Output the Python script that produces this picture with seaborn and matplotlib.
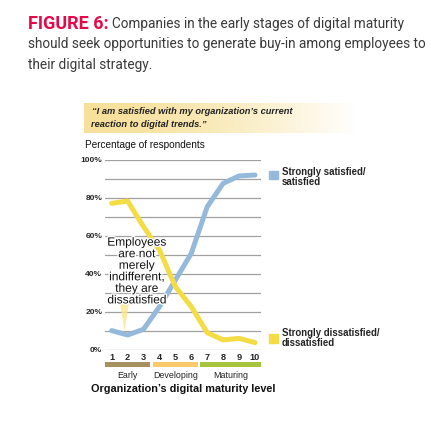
import numpy as np
import matplotlib
matplotlib.use('Agg')
import matplotlib.pyplot as plt
import matplotlib.patheffects as pe
from matplotlib import font_manager
import seaborn as sns

levels = list(range(1, 11))
satisfied = [10.2, 7.9, 10.9, 22.8, 36.8, 50.9, 75.4, 87.7, 91.6, 92.1]
dissatisfied = [77.2, 78.4, 64.9, 52.6, 33.3, 22.8, 9.1, 5.3, 6.1, 3.9]
y_ticks = [0, 20, 40, 60, 80, 100]
stages = ['Early', 'Developing', 'Maturing']
stage_spans = [(1, 3), (4, 6), (7, 10)]
stage_colors = ['#a8915e', '#f9c96b', '#a7c43f']

BLUE = '#95b9db'
YELLOW = '#f4dc44'


def pick(name, default='DejaVu Sans'):
    try:
        font_manager.findfont(name, fallback_to_default=False)
        return name
    except Exception:
        return default


narrow = pick('Liberation Sans Narrow', 'Liberation Sans')
body = pick('Roboto')

sns.set_style('white')
plt.rcParams['font.family'] = [narrow, 'DejaVu Sans']

W, H = 447, 428
fig = plt.figure(figsize=(W / 100, H / 100), dpi=100)


def fx(px):
    return px / W


def fy(py):
    return 1 - py / H


# title
fig.text(fx(28), fy(24), 'FIGURE 6:', color='#e5094a', fontsize=13, fontweight='bold',
         family=body, va='center', zorder=10)
fig.text(fx(112), fy(24), 'Companies in the early stages of digital maturity',
         color='#3a3a3a', fontsize=9.8, family=body, va='center', zorder=10)
fig.text(fx(28), fy(44), 'should seek opportunities to generate buy-in among employees to',
         color='#3a3a3a', fontsize=9.8, family=body, va='center', zorder=10)
fig.text(fx(28), fy(65), 'their digital strategy.', color='#3a3a3a', fontsize=9.8,
         family=body, va='center', zorder=10)

# quote box with gradient
qax = fig.add_axes([fx(84), fy(133), fx(358) - fx(84), fy(103) - fy(133)])
grad = np.linspace(0, 1, 256)
c0 = np.array(matplotlib.colors.to_rgb('#f7e09a'))
c1 = np.array([1, 1, 1])
cols = c0[None, :] * (1 - grad[:, None] ** 1.5) + c1[None, :] * grad[:, None] ** 1.5
qax.imshow(cols[None, :, :], aspect='auto', extent=[0, 1, 0, 1], zorder=0)
qax.set_xlim(0, 1)
qax.set_ylim(0, 1)
qax.axis('off')
qax.text(8 / 274, 0.72, '\u201cI am satisfied with my organization\u2019s current',
         fontsize=6.7, style='italic', fontweight='bold', color='#222222', va='center',
         transform=qax.transAxes, zorder=5)
qax.text(7 / 274, 0.29, 'reaction to digital trends.\u201d', fontsize=6.7,
         style='italic', fontweight='bold', color='#222222', va='center',
         transform=qax.transAxes, zorder=5)
fig.text(fx(85), fy(145), 'Percentage of respondents', fontsize=7.2, color='#111111',
         va='center')

# main axes
x0 = 1 - 6.7 / 15.92
x1 = 10 + 6 / 15.92
ax = fig.add_axes([fx(105), fy(350), fx(261) - fx(105), fy(160) - fy(350)])
ax.set_xlim(x0, x1)
ax.set_ylim(0, 100)
for v in range(0, 101, 10):
    ax.axhline(v, color='#a0a0a0', lw=0.9, zorder=0)
sns.lineplot(x=levels, y=satisfied, ax=ax, color=BLUE, lw=3.6, zorder=2)
sns.lineplot(x=levels, y=dissatisfied, ax=ax, color=YELLOW, lw=3.6, zorder=3)
for s in ax.spines.values():
    s.set_visible(False)
ax.set_yticks(y_ticks)
ax.set_yticklabels([f'{v}%' for v in y_ticks], fontsize=6, fontweight='bold')
ax.tick_params(axis='y', length=0, pad=2)
ax.set_xticks(levels)
ax.set_xticklabels([str(v) for v in levels], fontsize=6.6, fontweight='bold')
ax.tick_params(axis='x', length=0, pad=2.5)
ax.set_xlabel('')
ax.set_ylabel('')

# annotation pointer
ax.fill([1.52, 2.08, 1.8], [24.7, 24.7, 9.5], color='#fbe88c', alpha=0.8, zorder=4, lw=0)
ax.text(2.57, 41.3, 'Employees\nare not\nmerely\nindifferent,\nthey are\ndissatisfied',
        ha='center', va='center', fontsize=8.6, linespacing=0.95, color='#111111',
        zorder=5, path_effects=[pe.withStroke(linewidth=2, foreground='white')])

# legend
fig.patches.append(plt.Rectangle((fx(269), fy(179)), 9 / W, 8 / H, color=BLUE,
                                 transform=fig.transFigure))
fig.text(fx(282), fy(167), 'Strongly satisfied/\nsatisfied', fontsize=6.9, va='top',
         linespacing=1.05, fontweight='bold', color='#222222')
fig.patches.append(plt.Rectangle((fx(269), fy(343)), 9 / W, 9 / H, color=YELLOW,
                                 transform=fig.transFigure))
fig.text(fx(282), fy(328), 'Strongly dissatisfied/\ndissatisfied', fontsize=6.9,
         va='top', linespacing=1.05, fontweight='bold', color='#222222')

# stage bars
for name, (a, b), c in zip(stages, stage_spans, stage_colors):
    left = a - 0.43 if a > 1 else x0
    right = b + 0.43 if b < 10 else x1
    ax.add_patch(plt.Rectangle((left, -6.3), right - left, -2.8, color=c,
                               clip_on=False, lw=0))
    ax.text((left + right) / 2, -13.2, name, ha='center', va='center', fontsize=6.4,
            color='#222222')
ax.text((x0 + x1) / 2, -20.6, 'Organization\u2019s digital maturity level', ha='center',
        va='center', fontsize=7.8, fontweight='bold', color='#111111')

fig.savefig('out.png', dpi=100)
